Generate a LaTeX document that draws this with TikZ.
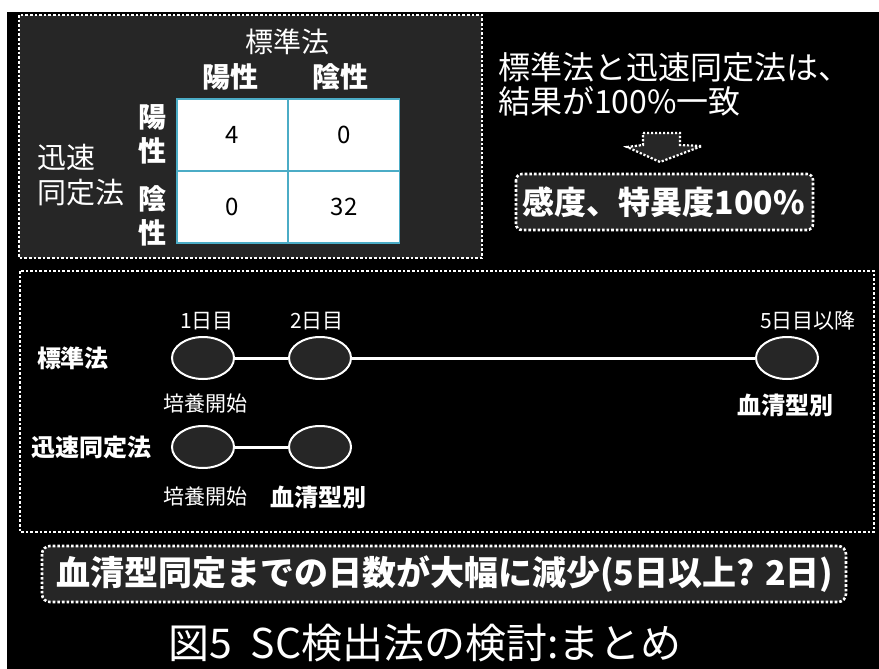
\documentclass[tikz,border=0pt]{standalone}
\usepackage{fontspec}
\setmainfont{Noto Sans CJK JP}
\usetikzlibrary{shapes.geometric}
\definecolor{panel}{HTML}{262626}
\definecolor{tblline}{HTML}{4BACC6}
\newcommand\myfs[1]{\fontsize{#1}{#1}\selectfont}
\begin{document}
\begin{tikzpicture}[x=1pt,y=-1pt,
  dotborder/.style={draw=white, line width=2.6pt, dash pattern=on 2.6pt off 2pt},
  txt/.style={text=white, inner sep=0pt},
  ell/.style={ellipse, draw=white, line width=2pt, fill=panel, minimum width=62pt, minimum height=42pt, inner sep=0pt},
  link/.style={draw=white, line width=3pt},
  cell/.style={draw=tblline, line width=1.5pt, fill=white, minimum width=111pt, minimum height=72pt, inner sep=0pt, text=black, font=\myfs{24}}
]
\useasboundingbox (0,0) rectangle (879,669);
\fill[white] (0,0) rectangle (879,669);
\fill[black] (7,12) rectangle (879,669);

% ---------- top-left panel ----------
\draw[dotborder, fill=panel] (19,15) rectangle (482,258);
\node[txt, font=\myfs{28}] (std) at (287,42) {標準法};
\node[txt, font=\myfs{28}\bfseries] (colpos) at (230,77) {陽性};
\node[txt, font=\myfs{28}\bfseries] (colneg) at (340,77) {陰性};
\node[txt, font=\myfs{28}\bfseries] (rp1) at (152,117) {陽};
\node[txt, font=\myfs{28}\bfseries] (rp2) at (152,151) {性};
\node[txt, font=\myfs{28}\bfseries] (rn1) at (152,199) {陰};
\node[txt, font=\myfs{28}\bfseries] (rn2) at (152,233) {性};
\node[txt, font=\myfs{29}, anchor=west] (rap1) at (37,157) {迅速};
\node[txt, font=\myfs{29}, anchor=west] (rap2) at (37,193) {同定法};
\node[cell] (c11) at (232.5,135) {4};
\node[cell] (c12) at (344,135) {0};
\node[cell] (c21) at (232.5,207) {0};
\node[cell] (c22) at (344,207) {32};

% ---------- top-right ----------
\node[txt, font=\myfs{32}, anchor=west] (l1) at (498,67) {標準法と迅速同定法は、};
\node[txt, font=\myfs{32}, anchor=west] (l2) at (498,101) {結果が100\%一致};
\draw[dotborder, line width=2.2pt, dash pattern=on 2.2pt off 1.8pt, fill=panel]
  (643,133) -- (680,133) -- (680,145) -- (702,146) -- (660,162) -- (627,147) -- (643,145) -- cycle;
\draw[dotborder, fill=panel, rounded corners=6pt] (516,174) rectangle (813,230);
\node[txt, font=\myfs{32}\bfseries] (sens) at (664,202) {感度、特異度100\%};

% ---------- timeline panel ----------
\draw[dotborder] (20,271) rectangle (874,532);
\node[txt, font=\myfs{24}\bfseries] (lstd) at (73,358) {標準法};
\node[txt, font=\myfs{24}\bfseries] (lrap) at (91,447) {迅速同定法};

\node[ell] (s1) at (203,358) {};
\node[ell] (s2) at (320,358) {};
\node[ell] (s5) at (787,358) {};
\node[ell] (r1) at (203,447) {};
\node[ell] (r2) at (320,447) {};
\draw[link] (s1) -- (s2);
\draw[link] (s2) -- (s5);
\draw[link] (r1) -- (r2);

\node[txt, font=\myfs{21}] (d1) at (207,321) {1日目};
\node[txt, font=\myfs{21}] (d2) at (317,321) {2日目};
\node[txt, font=\myfs{21}] (d5) at (808,321) {5日目以降};
\node[txt, font=\myfs{21}] (cs1) at (205,404) {培養開始};
\node[txt, font=\myfs{24}\bfseries] (se1) at (785,405) {血清型別};
\node[txt, font=\myfs{21}] (cs2) at (205,497) {培養開始};
\node[txt, font=\myfs{24}\bfseries] (se2) at (318,497) {血清型別};

% ---------- summary ----------
\draw[dotborder, fill=panel, rounded corners=8pt] (42,546) rectangle (846,602);
\node[txt, font=\myfs{34}\bfseries] (summ) at (445,574) {血清型同定までの日数が大幅に減少(5日以上? 2日)};

% ---------- title ----------
\node[txt, font=\myfs{41}] (title) at (425,643) {図5\hspace{0.45em}SC検出法の検討:まとめ};
\end{tikzpicture}
\end{document}
